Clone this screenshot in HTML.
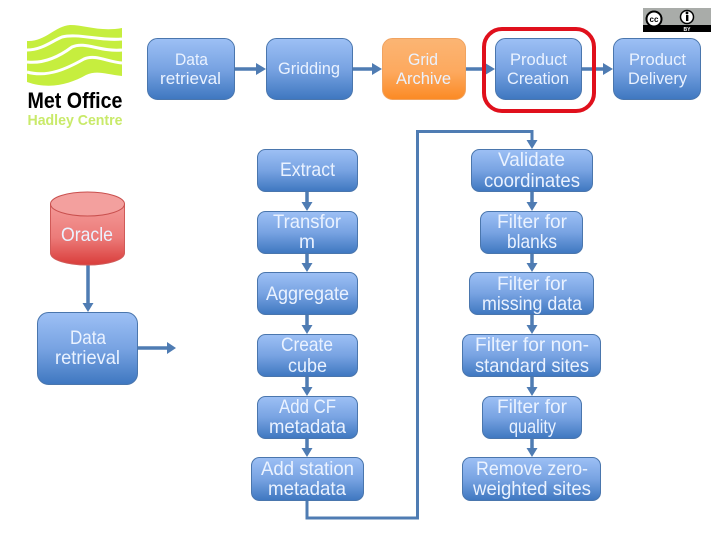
<!DOCTYPE html>
<html><head><meta charset="utf-8"><style>
html,body{margin:0;padding:0;background:#fff;width:720px;height:540px;overflow:hidden}
svg{display:block}
text{font-family:"Liberation Sans",sans-serif;fill:#eaf2ff;text-anchor:middle}
.a{font-size:17px}.b{font-size:19.500px}
.n{fill:url(#blue);stroke:#4a76ad;stroke-width:1}
.c{fill:none;stroke:#4f7cb3;stroke-width:3.500}
.h{fill:#4f7cb3}
</style></head><body>
<svg width="720" height="540" viewBox="0 0 720 540" xmlns="http://www.w3.org/2000/svg">
<defs>
<linearGradient id="blue" x1="0" y1="0" x2="0" y2="1"><stop offset="0" stop-color="#9dc0f5"/><stop offset=".5" stop-color="#78a3e2"/><stop offset="1" stop-color="#3e77c0"/></linearGradient>
<linearGradient id="or" x1="0" y1="0" x2="0" y2="1"><stop offset="0" stop-color="#fbb574"/><stop offset=".55" stop-color="#fda95e"/><stop offset="1" stop-color="#fb8a24"/></linearGradient>
<linearGradient id="red" x1="0" y1="0" x2="0" y2="1"><stop offset="0" stop-color="#f39a98"/><stop offset=".55" stop-color="#ec7b79"/><stop offset="1" stop-color="#d93c3a"/></linearGradient>
</defs>

<!-- logo -->
<path d="M27 41 C45 42 55 26 70 25 C85 25 100 32 122 28 L122 76 C105 74 97 70 86 75 C70 84 50 90 27 82 Z" fill="#c6ee3e"/>
<g fill="none" stroke="#fff">
<path d="M27 50 C42 50 52 41 62 37 C78 33 100 41 122 39" stroke-width="3"/>
<path d="M27 62 C45 64 60 56 72 47 C85 41 100 52 122 50" stroke-width="3"/>
<path d="M27 72 C48 78 68 68 84 59 C95 54 108 62 122 63" stroke-width="3"/>
</g>
<text x="75" y="108" style="font-size:22px;font-weight:bold;fill:#000" textLength="95" lengthAdjust="spacingAndGlyphs">Met Office</text>
<text x="75" y="125" style="font-size:15px;font-weight:bold;fill:#c9ea6a" textLength="95" lengthAdjust="spacingAndGlyphs">Hadley Centre</text>

<!-- cc badge -->
<rect x="643" y="8" width="68" height="24" fill="#a9aca9"/>
<rect x="643" y="25" width="68" height="7" fill="#000"/>
<circle cx="654" cy="19" r="7.500" fill="#fff" stroke="#000" stroke-width="2"/>
<text x="654" y="22" style="font-size:8px;font-weight:bold;fill:#000">cc</text>
<circle cx="687" cy="17" r="6.500" fill="#fff" stroke="#000" stroke-width="1.500"/>
<rect x="686" y="15" width="2.400" height="6" fill="#000"/><circle cx="687" cy="13" r="1.400" fill="#000"/>
<text x="687" y="31" style="font-size:5px;font-weight:bold;fill:#fff">BY</text>

<!-- connectors -->
<path class="c" d="M235 69H259M353 69H375M466 69H488M581 69H606"/>
<path class="h" d="M266 69l-10-6v12zM382 69l-10-6v12zM495 69l-10-6v12zM613 69l-10-6v12z"/>
<path class="c" d="M88 265V305M138 348H168"/>
<path class="h" d="M88 312l-5.500-9h11zM176 348l-9-6v12z"/>
<path class="c" d="M307 192V204M307 254V265M307 315V327M307 377V389M307 439V450M532 192V204M532 254V265M532 315V327M532 377V389M532 439V450"/>
<path class="h" d="M307 211l-5.500-9h11zM307 272l-5.500-9h11zM307 334l-5.500-9h11zM307 396l-5.500-9h11zM307 457l-5.500-9h11zM532 211l-5.500-9h11zM532 272l-5.500-9h11zM532 334l-5.500-9h11zM532 396l-5.500-9h11zM532 457l-5.500-9h11z"/>
<path class="c" d="M307 501V518H417.500V131.500H532V142" style="stroke-width:3"/>
<path class="h" d="M532 149l-5.500-9h11z"/>

<!-- top row -->
<rect class="n" x="147.500" y="38.500" width="87" height="61" rx="10"/>
<rect class="n" x="266.500" y="38.500" width="86" height="61" rx="10"/>
<rect x="382.500" y="38.500" width="83" height="61" rx="10" fill="url(#or)" stroke="#f0a360"/>
<rect class="n" x="495.500" y="38.500" width="86" height="61" rx="10"/>
<rect class="n" x="613.500" y="38.500" width="87" height="61" rx="10"/>
<rect x="484" y="29" width="110" height="82" rx="18" fill="none" stroke="#e0101c" stroke-width="4"/>

<text class="a" x="191.500" y="65" textLength="33" lengthAdjust="spacingAndGlyphs">Data</text>
<text class="a" x="190.500" y="84" textLength="61" lengthAdjust="spacingAndGlyphs">retrieval</text>
<text class="a" x="309" y="74" textLength="62" lengthAdjust="spacingAndGlyphs">Gridding</text>
<text class="a" x="423" y="65" textLength="30" lengthAdjust="spacingAndGlyphs">Grid</text>
<text class="a" x="423.500" y="84" textLength="55" lengthAdjust="spacingAndGlyphs">Archive</text>
<text class="a" x="538.500" y="65" textLength="57" lengthAdjust="spacingAndGlyphs">Product</text>
<text class="a" x="538" y="84" textLength="62" lengthAdjust="spacingAndGlyphs">Creation</text>
<text class="a" x="657.500" y="65" textLength="57" lengthAdjust="spacingAndGlyphs">Product</text>
<text class="a" x="657.500" y="84" textLength="59" lengthAdjust="spacingAndGlyphs">Delivery</text>

<!-- left -->
<path d="M50.500 204V253C50.500 260 67 265 87.500 265S124.500 260 124.500 253V204Z" fill="url(#red)" stroke="#d05a58"/>
<ellipse cx="87.500" cy="204" rx="37" ry="12" fill="#f3a09e" stroke="#c9504e"/>
<text class="b" x="87" y="241" textLength="52" lengthAdjust="spacingAndGlyphs">Oracle</text>
<rect class="n" x="37.500" y="312.500" width="100" height="72" rx="11"/>
<text class="b" x="88" y="344" textLength="36" lengthAdjust="spacingAndGlyphs">Data</text>
<text class="b" x="87.500" y="364" textLength="65" lengthAdjust="spacingAndGlyphs">retrieval</text>

<!-- middle column -->
<rect class="n" x="257.500" y="149.500" width="100" height="42" rx="8"/>
<rect class="n" x="257.500" y="211.500" width="100" height="42" rx="8"/>
<rect class="n" x="257.500" y="272.500" width="100" height="42" rx="8"/>
<rect class="n" x="257.500" y="334.500" width="100" height="42" rx="8"/>
<rect class="n" x="257.500" y="396.500" width="100" height="42" rx="8"/>
<rect class="n" x="251.500" y="457.500" width="112" height="43" rx="8"/>
<text class="b" x="307.500" y="176" textLength="55" lengthAdjust="spacingAndGlyphs">Extract</text>
<text class="b" x="307" y="228" textLength="68" lengthAdjust="spacingAndGlyphs">Transfor</text>
<text class="b" x="307" y="248" textLength="16" lengthAdjust="spacingAndGlyphs">m</text>
<text class="b" x="307.500" y="300" textLength="83" lengthAdjust="spacingAndGlyphs">Aggregate</text>
<text class="b" x="307" y="351" textLength="52" lengthAdjust="spacingAndGlyphs">Create</text>
<text class="b" x="307.500" y="372" textLength="39" lengthAdjust="spacingAndGlyphs">cube</text>
<text class="b" x="307.500" y="413" textLength="57" lengthAdjust="spacingAndGlyphs">Add CF</text>
<text class="b" x="307.500" y="433" textLength="77" lengthAdjust="spacingAndGlyphs">metadata</text>
<text class="b" x="307.500" y="475" textLength="93" lengthAdjust="spacingAndGlyphs">Add station</text>
<text class="b" x="307" y="495" textLength="78" lengthAdjust="spacingAndGlyphs">metadata</text>

<!-- right column -->
<rect class="n" x="471.500" y="149.500" width="121" height="42" rx="8"/>
<rect class="n" x="480.500" y="211.500" width="102" height="42" rx="8"/>
<rect class="n" x="469.500" y="272.500" width="124" height="42" rx="8"/>
<rect class="n" x="462.500" y="334.500" width="138" height="42" rx="8"/>
<rect class="n" x="482.500" y="396.500" width="99" height="42" rx="8"/>
<rect class="n" x="462.500" y="457.500" width="138" height="43" rx="8"/>
<text class="b" x="531.500" y="166" textLength="67" lengthAdjust="spacingAndGlyphs">Validate</text>
<text class="b" x="532" y="187" textLength="96" lengthAdjust="spacingAndGlyphs">coordinates</text>
<text class="b" x="532" y="228" textLength="70" lengthAdjust="spacingAndGlyphs">Filter for</text>
<text class="b" x="532" y="248" textLength="50" lengthAdjust="spacingAndGlyphs">blanks</text>
<text class="b" x="532" y="290" textLength="70" lengthAdjust="spacingAndGlyphs">Filter for</text>
<text class="b" x="532" y="310" textLength="100" lengthAdjust="spacingAndGlyphs">missing data</text>
<text class="b" x="532" y="351" textLength="114" lengthAdjust="spacingAndGlyphs">Filter for non-</text>
<text class="b" x="532" y="372" textLength="114" lengthAdjust="spacingAndGlyphs">standard sites</text>
<text class="b" x="532" y="413" textLength="70" lengthAdjust="spacingAndGlyphs">Filter for</text>
<text class="b" x="532.500" y="433" textLength="47" lengthAdjust="spacingAndGlyphs">quality</text>
<text class="b" x="532" y="475" textLength="112" lengthAdjust="spacingAndGlyphs">Remove zero-</text>
<text class="b" x="532" y="495" textLength="118" lengthAdjust="spacingAndGlyphs">weighted sites</text>
</svg>
</body></html>
